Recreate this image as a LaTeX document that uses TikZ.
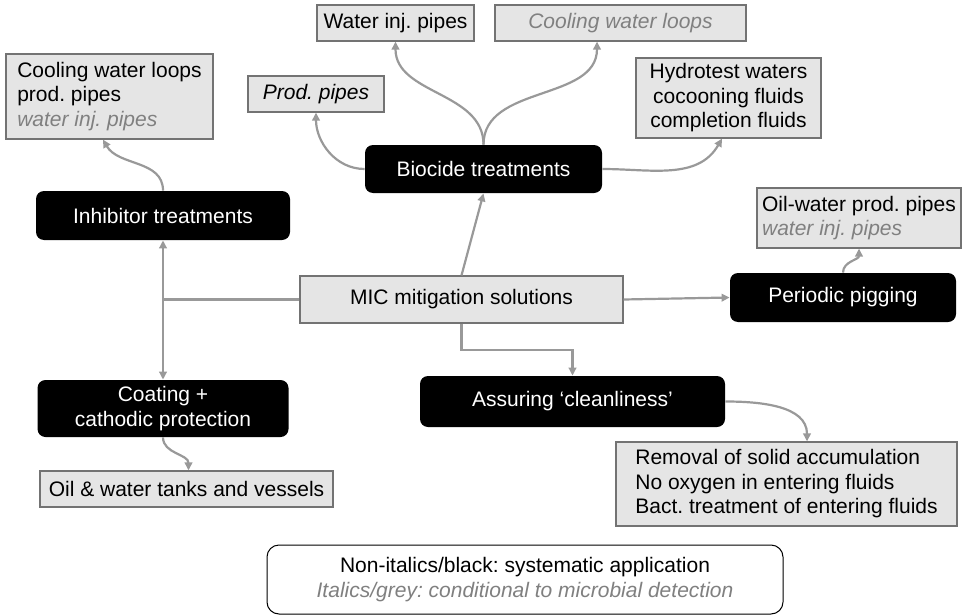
\documentclass[tikz,border=0pt]{standalone}
\usepackage{fontspec}
\setmainfont{Liberation Sans}
\usepackage{xcolor}
\usepackage{tikz}
\usetikzlibrary{arrows.meta,positioning,calc}

\definecolor{condgrey}{gray}{0.5}
\newcommand{\condtext}[1]{{\color{condgrey}\itshape #1}}
\frenchspacing

\begin{document}
\begin{tikzpicture}[x=0.5pt, y=-0.5pt,
  font=\fontsize{10.5}{12.25}\selectfont,
  solution/.style={rectangle, fill=black, text=white, rounded corners=4pt, align=center, inner sep=2pt},
  target/.style={rectangle, draw=black!55, line width=0.6pt, fill=black!10, align=left, inner sep=2pt},
  legend/.style={rectangle, draw=black, line width=0.5pt, fill=white, rounded corners=6pt, align=center},
  line/.style={draw=black!40, line width=1.1pt, -{Triangle[length=4pt,width=3.8pt]}}]

  \useasboundingbox (0,0) rectangle (963,615);

  % centre of the map
  \node [target, minimum width=161.5pt, minimum height=23.5pt] (mic) at (461.5,299.5) {MIC mitigation solutions};

  % solutions
  \node [solution, minimum width=118.5pt, minimum height=24pt] (biocide) at (483.5,169) {Biocide treatments};
  \node [solution, minimum width=127pt, minimum height=24.5pt] (inhib) at (163,215.5) {Inhibitor treatments};
  \node [solution, minimum width=113pt, minimum height=24.5pt] (pigging) at (843,297.5) {Periodic pigging};
  \node [solution, minimum width=125.5pt, minimum height=28.5pt] (coating) at (163,408.5) {Coating +\\cathodic protection};
  \node [solution, minimum width=152.5pt, minimum height=25.5pt] (clean) at (572.5,401.5) {Assuring `cleanliness'};

  % where they apply
  \node [target, minimum width=78.5pt, minimum height=18pt] (winj) at (395.5,23) {Water inj. pipes};
  \node [target, minimum width=125.5pt, minimum height=18pt] (cwloop) at (620.5,23) {\condtext{Cooling water loops}};
  \node [target, minimum width=68pt, minimum height=18pt] (prod) at (316,94) {\textit{Prod. pipes}};
  \node [target, minimum width=92.5pt, minimum height=40pt, align=center] (hydro) at (728.5,98) {Hydrotest waters\\cocooning fluids\\completion fluids};
  \node [target, minimum width=103.5pt, minimum height=42.5pt] (cooling) at (109.5,96.5) {Cooling water loops\\prod. pipes\\\condtext{water inj. pipes}};
  \node [target, minimum width=102pt, minimum height=30pt] (oilwater) at (859,218) {Oil-water prod. pipes\\\condtext{water inj. pipes}};
  \node [target, minimum width=146.5pt, minimum height=18pt] (tanks) at (186.5,489) {Oil \& water tanks and vessels};
  \node [target, minimum width=170.5pt, minimum height=42pt] (removal) at (786.5,484) {Removal of solid accumulation\\No oxygen in entering fluids\\Bact. treatment of entering fluids};

  % key
  \node [legend, minimum width=258pt, minimum height=34.5pt] (key) at (525,579.5) {Non-italics/black: systematic application\\\condtext{Italics/grey: conditional to microbial detection}};

  \path [line] (mic.west) -| (inhib.south);
  \path [line] (mic.west) -| (coating.north);
  \path [line] (mic.north) -- (biocide.south);
  \path [line] (mic.east) -- (pigging.west);
  \path [line] (mic.south) -- ++(0,26) -| (clean.north);

  \path [line] (biocide.north) to[out=90, in=-90] (winj.south);
  \path [line] (biocide.north) to[out=90, in=-90] ([xshift=-11.75pt]cwloop.south);
  \path [line] (biocide.west) to[out=180, in=-90] (prod.south);
  \path [line] (biocide.east) to[out=0, in=-120] ([xshift=-3.25pt]hydro.south);
  \path [line] (inhib.north) to[out=90, in=-60] ([xshift=-3.25pt]cooling.south);
  \path [line] (pigging.north) to[out=90, in=-90] (oilwater.south);
  \path [line] (coating.south) to[out=-90, in=90] ([xshift=1pt]tanks.north);
  \path [line] (clean.east) to[out=0, in=90] ([xshift=10.25pt]removal.north);
\end{tikzpicture}
\end{document}
